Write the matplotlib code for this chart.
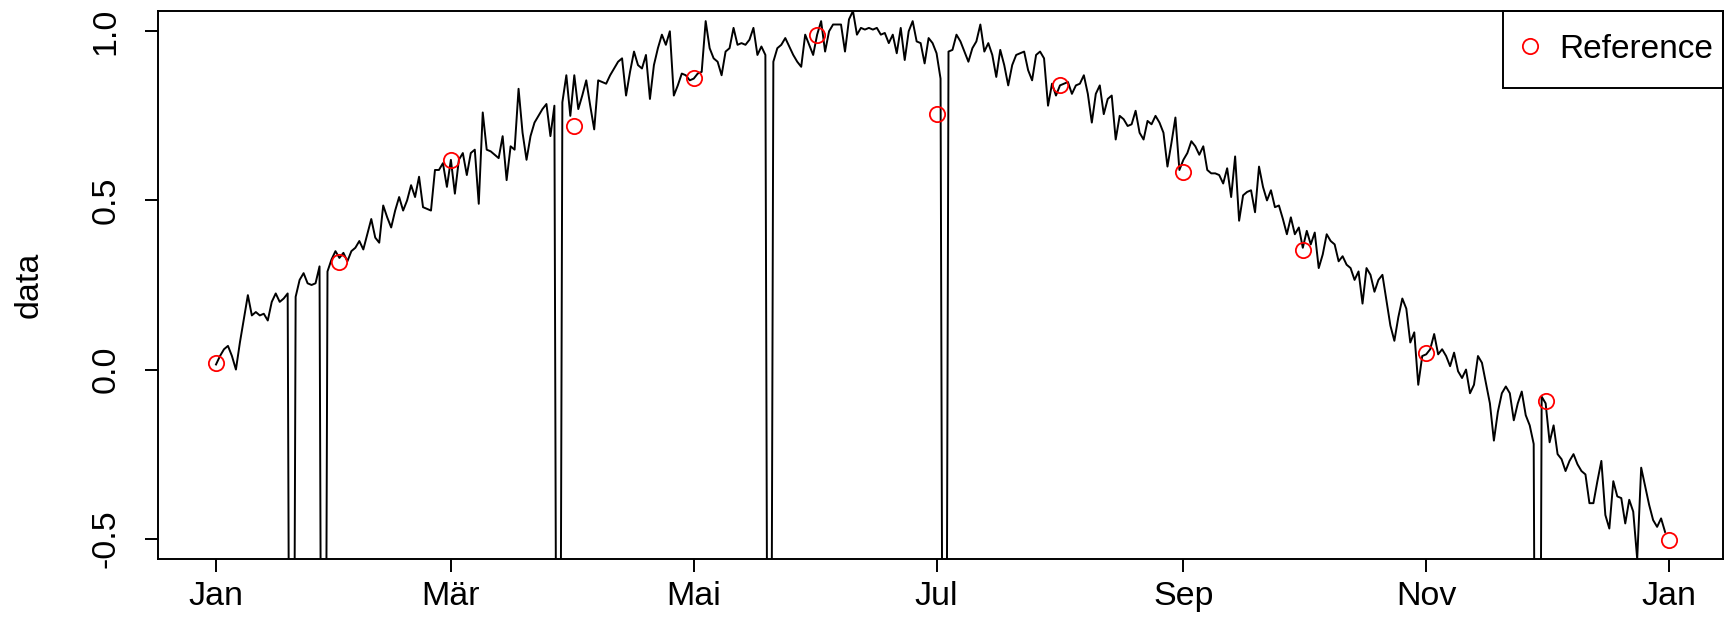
import matplotlib
matplotlib.use("Agg")
import matplotlib.pyplot as plt
import matplotlib.transforms as mtransforms
from matplotlib.patches import Rectangle
import pandas as pd

plt.rcParams['font.family'] = ['Liberation Sans', 'DejaVu Sans']

# logger writes this when a day is lost
M = -3.0

# daily series, one list per month (2021)
jan = [0.015, 0.04, 0.06, 0.07, 0.04, 0.00, 0.08, 0.15, 0.22, 0.16, 0.17, 0.16, 0.165, 0.145, 0.20, 0.225,
       0.20, 0.21, 0.225, M, 0.215, 0.265, 0.285, 0.255, 0.25, 0.255, 0.305, M, 0.29, 0.325, 0.35]
feb = [0.33, 0.345, 0.32, 0.35, 0.36, 0.38, 0.355, 0.40, 0.445, 0.39, 0.375, 0.485, 0.45, 0.42, 0.47, 0.51,
       0.47, 0.50, 0.545, 0.51, 0.57, 0.48, 0.475, 0.47, 0.59, 0.59, 0.61, 0.54]
mar = [0.62, 0.52, 0.62, 0.64, 0.575, 0.64, 0.65, 0.49, 0.76, 0.65, 0.645, 0.635, 0.625, 0.69, 0.56, 0.66,
       0.65, 0.83, 0.70, 0.62, 0.69, 0.73, 0.75, 0.77, 0.785, 0.69, 0.78, M, 0.79, 0.87, 0.75]
apr = [0.87, 0.77, 0.81, 0.855, 0.78, 0.71, 0.855, 0.85, 0.845, 0.87, 0.89, 0.91, 0.92, 0.81, 0.88, 0.94,
       0.90, 0.89, 0.93, 0.80, 0.90, 0.95, 0.99, 0.96, 1.00, 0.81, 0.84, 0.875, 0.87, 0.855]
may = [0.86, 0.875, 0.88, 1.03, 0.95, 0.92, 0.91, 0.87, 0.94, 0.95, 1.01, 0.96, 0.965, 0.96, 0.975, 1.01,
       0.93, 0.955, 0.93, M, 0.91, 0.95, 0.96, 0.98, 0.955, 0.93, 0.91, 0.895, 0.99, 0.96, 0.93]
jun = [0.99, 1.03, 0.94, 1.00, 1.02, 1.02, 1.02, 0.94, 1.035, 1.06, 0.99, 1.01, 1.005, 1.01, 1.005, 1.01,
       0.99, 0.995, 0.965, 0.99, 0.935, 1.01, 0.915, 1.00, 1.03, 0.97, 0.965, 0.905, 0.98, 0.965]
jul = [0.935, 0.86, M, 0.94, 0.945, 0.99, 0.97, 0.94, 0.91, 0.95, 0.97, 1.02, 0.94, 0.965, 0.93, 0.865,
       0.945, 0.90, 0.84, 0.90, 0.93, 0.935, 0.94, 0.885, 0.855, 0.93, 0.94, 0.92, 0.78, 0.845, 0.81]
aug = [0.84, 0.845, 0.85, 0.815, 0.84, 0.845, 0.87, 0.815, 0.73, 0.815, 0.84, 0.755, 0.80, 0.81, 0.68, 0.75,
       0.74, 0.72, 0.725, 0.765, 0.70, 0.68, 0.735, 0.725, 0.75, 0.73, 0.70, 0.60, 0.67, 0.745, 0.59]
sep = [0.62, 0.64, 0.675, 0.66, 0.635, 0.66, 0.59, 0.58, 0.58, 0.575, 0.55, 0.595, 0.51, 0.63, 0.44, 0.515,
       0.525, 0.53, 0.465, 0.60, 0.54, 0.50, 0.53, 0.48, 0.485, 0.445, 0.40, 0.45, 0.40, 0.42]
oct = [0.36, 0.41, 0.37, 0.405, 0.30, 0.34, 0.40, 0.38, 0.37, 0.32, 0.335, 0.31, 0.30, 0.265, 0.29, 0.195,
       0.30, 0.28, 0.23, 0.265, 0.28, 0.205, 0.13, 0.085, 0.155, 0.21, 0.18, 0.08, 0.11, -0.045, 0.04]
nov = [0.045, 0.06, 0.105, 0.045, 0.06, 0.04, 0.01, 0.05, -0.005, -0.025, 0.0, -0.07, -0.045, 0.04, 0.02,
       -0.04, -0.10, -0.21, -0.125, -0.07, -0.05, -0.07, -0.15, -0.10, -0.065, -0.135, -0.165, -0.22, M, -0.08]
dec = [-0.10, -0.215, -0.165, -0.25, -0.265, -0.30, -0.27, -0.25, -0.28, -0.30, -0.31, -0.395, -0.395, -0.33,
       -0.27, -0.43, -0.47, -0.33, -0.375, -0.38, -0.455, -0.385, -0.42, -0.56, -0.29, -0.345, -0.40, -0.445,
       -0.465, -0.44, -0.48]

# monthly reference readings, first of each month
ref_values = [0.019, 0.319, 0.62, 0.719, 0.862, 0.988, 0.754, 0.84, 0.584, 0.353, 0.048, -0.092, -0.503]

tick_labels = ['Jan', 'Mär', 'Mai', 'Jul', 'Sep', 'Nov', 'Jan']
y_ticks = [-0.5, 0.0, 0.5, 1.0]

daily = jan + feb + mar + apr + may + jun + jul + aug + sep + oct + nov + dec
days = pd.date_range('2021-01-01', periods=len(daily), freq='D')
ref_dates = pd.date_range('2021-01-01', '2022-01-01', freq='MS')
tick_dates = pd.date_range('2021-01-01', '2022-01-01', freq='2MS')

FS = 24.5
LW = 1.4

fig = plt.figure(figsize=(17.35, 6.42), dpi=100)
ax = fig.add_axes([0.0911, 0.1293, 0.9020, 0.8536])

ax.plot(days, daily, color='black', lw=LW)
ax.plot(ref_dates, ref_values, 'o', ls='none', mfc='none', mec='red', ms=11, mew=1.3, label='Reference')

# R-style 4% padding around the daily range
span = days[-1] - days[0]
ax.set_xlim(days[0] - 0.04 * span, days[-1] + 0.04 * span)
ylo, yhi = -0.5, 1.0
ax.set_ylim(ylo - 0.04 * (yhi - ylo), yhi + 0.04 * (yhi - ylo))

ax.set_xticks(tick_dates)
ax.set_xticklabels(tick_labels)
ax.set_yticks(y_ticks)
ax.set_yticklabels(['%.1f' % v for v in y_ticks], rotation=90, va='center')

ax.tick_params(direction='out', length=9.5, width=LW, labelsize=FS, color='black')
ax.tick_params(axis='x', pad=6)
ax.tick_params(axis='y', pad=17)
for s in ax.spines.values():
    s.set_linewidth(LW)

ax.set_ylabel('data', fontsize=FS, labelpad=33)

# legend text anchored inside the top-right corner, frame drawn separately
anchor = mtransforms.offset_copy(ax.transAxes, fig, x=-10, y=-23, units='dots')
leg = ax.legend(loc='upper right', bbox_to_anchor=(1, 1), bbox_transform=anchor, fontsize=24,
                frameon=False, borderaxespad=0, borderpad=0, handlelength=0.34, handletextpad=0.7)

fig.canvas.draw()
lb = leg.get_window_extent()
axb = ax.get_window_extent()
x0 = lb.x0 - 21
y0 = lb.y0 - 23
fig.add_artist(Rectangle((x0, y0), axb.x1 - x0, axb.y1 - y0, transform=mtransforms.IdentityTransform(),
                         fill=False, edgecolor='black', lw=LW, zorder=5))

fig.savefig('out.png', dpi=100)
